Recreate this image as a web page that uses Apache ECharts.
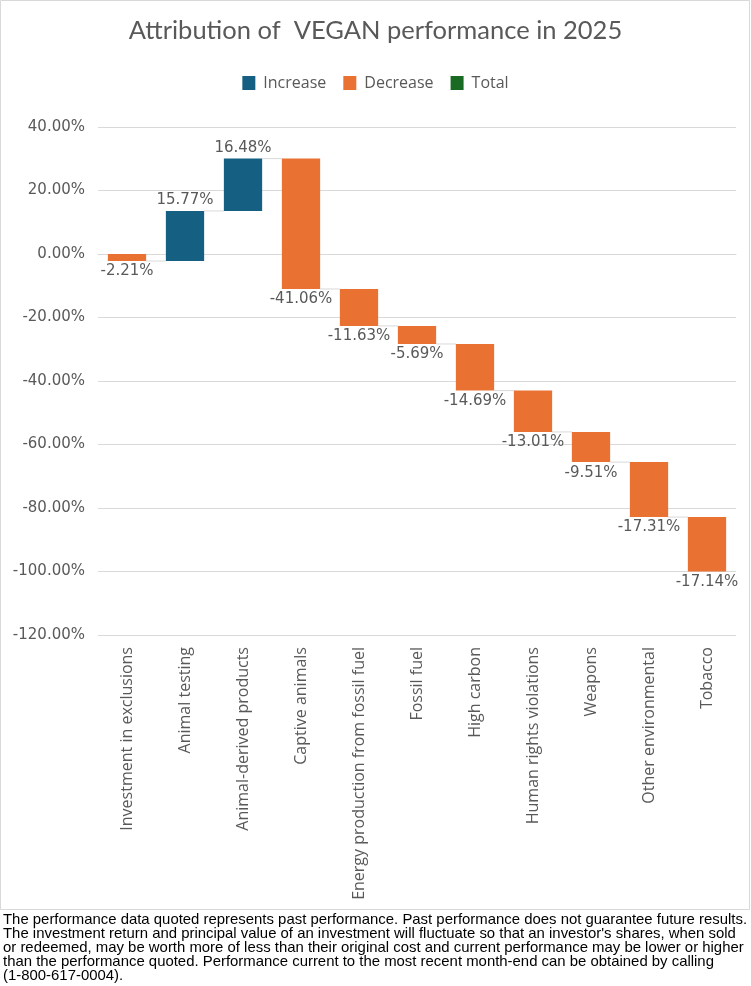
<!DOCTYPE html>
<html>
<head>
<meta charset="utf-8">
<script src="https://cdn.jsdelivr.net/npm/echarts@6/dist/echarts.min.js"></script>
<style>
html,body{margin:0;padding:0;background:#fff;}
#chart{width:751px;height:986px;}
</style>
</head>
<body>
<div id="chart"></div>
<script>
const categories = ["Investment in exclusions","Animal testing","Animal-derived products","Captive animals","Energy production from fossil fuel","Fossil fuel","High carbon","Human rights violations","Weapons","Other environmental","Tobacco"];
const deltas = [-2.21, 15.77, 16.48, -41.06, -11.63, -5.69, -14.69, -13.01, -9.51, -17.31, -17.14];
const yTicks = {min:-120, max:40, interval:20};
const footerLines = [
  "The performance data quoted represents past performance. Past performance does not guarantee future results.",
  "The investment return and principal value of an investment will fluctuate so that an investor's shares, when sold",
  "or redeemed, may be worth more of less than their original cost and current performance may be lower or higher",
  "than the performance quoted. Performance current to the most recent month-end can be obtained by calling",
  "(1-800-617-0004)."
];

const incData = [], decData = [], connData = [];
let cum = 0;
deltas.forEach((d, i) => {
  const s = cum, e = +(cum + d).toFixed(2);
  (d >= 0 ? incData : decData).push([i, s, e, d]);
  if (i < deltas.length - 1) connData.push([i, e]);
  cum = e;
});

const BLUE = '#156082', ORANGE = '#E97132', GREEN = '#196B24', GRAY = '#595959';
const BAR_RATIO = 0.66;
const NUM_FONT = '"DejaVu Sans", sans-serif';

// fit footer first line to page width
const mc = document.createElement('canvas').getContext('2d');
mc.font = '16px "Liberation Sans"';
const footSize = Math.min(16, 16 * 745 / mc.measureText(footerLines[0]).width);

function barRender(color) {
  return function (params, api) {
    const i = api.value(0), s = api.value(1), e = api.value(2), d = api.value(3);
    const p1 = api.coord([i, s]), p2 = api.coord([i, e]);
    const w = api.size([1, 0])[0] * BAR_RATIO;
    return {
      type: 'rect',
      shape: {x: p1[0] - w / 2, y: Math.min(p1[1], p2[1]), width: w, height: Math.abs(p1[1] - p2[1])},
      style: {fill: color},
      textContent: {style: {text: d.toFixed(2) + '%', fill: GRAY, font: '15px ' + NUM_FONT}},
      textConfig: {position: d >= 0 ? 'top' : 'bottom', distance: 3}
    };
  };
}

const chart = echarts.init(document.getElementById('chart'), null, {renderer: 'canvas'});
chart.setOption({
  backgroundColor: '#fff',
  animation: false,
  title: {
    text: 'Attribution of  VEGAN performance in 2025',
    left: 'center', top: 13,
    textStyle: {fontFamily: 'Lato', fontSize: 25.5, fontWeight: 'normal', color: GRAY}
  },
  legend: {
    top: 70, left: 'center',
    icon: 'rect', itemWidth: 13, itemHeight: 14, itemGap: 17,
    textStyle: {fontFamily: 'Open Sans', fontSize: 16, color: GRAY, padding: [0, 0, 0, 3]},
    data: ['Increase', 'Decrease', 'Total']
  },
  grid: {left: 98, right: 15, top: 127, bottom: 351, containLabel: false},
  xAxis: {
    type: 'category', data: categories,
    axisLine: {lineStyle: {color: '#d9d9d9'}},
    axisTick: {show: false},
    axisLabel: {rotate: 90, interval: 0, margin: 12, fontFamily: 'Open Sans', fontSize: 16, color: GRAY}
  },
  yAxis: {
    type: 'value', min: yTicks.min, max: yTicks.max, interval: yTicks.interval,
    axisLine: {show: false}, axisTick: {show: false},
    splitLine: {lineStyle: {color: '#d9d9d9'}},
    axisLabel: {formatter: v => v.toFixed(2) + '%', margin: 13, fontFamily: NUM_FONT, fontSize: 15, color: GRAY}
  },
  series: [
    {
      name: 'Connector', type: 'custom', silent: true, z: 1,
      data: connData,
      renderItem: function (params, api) {
        const i = api.value(0), lv = api.value(1);
        const w = api.size([1, 0])[0] * BAR_RATIO;
        const a = api.coord([i, lv]), b = api.coord([i + 1, lv]);
        return {type: 'line', shape: {x1: a[0] + w / 2, y1: a[1], x2: b[0] - w / 2, y2: b[1]}, style: {stroke: '#d9d9d9', lineWidth: 1}};
      }
    },
    {name: 'Increase', type: 'custom', z: 2, itemStyle: {color: BLUE}, data: incData, renderItem: barRender(BLUE)},
    {name: 'Decrease', type: 'custom', z: 2, itemStyle: {color: ORANGE}, data: decData, renderItem: barRender(ORANGE)},
    {name: 'Total', type: 'custom', z: 2, itemStyle: {color: GREEN}, data: [], renderItem: barRender(GREEN)}
  ],
  graphic: [
    {type: 'rect', shape: {x: 0.5, y: 0.5, width: 749, height: 909}, style: {fill: 'none', stroke: '#d9d9d9', lineWidth: 1}, silent: true},
    {type: 'text', left: 3, top: 912, style: {text: footerLines.join('\n'), fill: '#000', font: footSize.toFixed(2) + 'px "Liberation Sans", Arial, sans-serif', lineHeight: 14}}
  ]
});
</script>
</body>
</html>
